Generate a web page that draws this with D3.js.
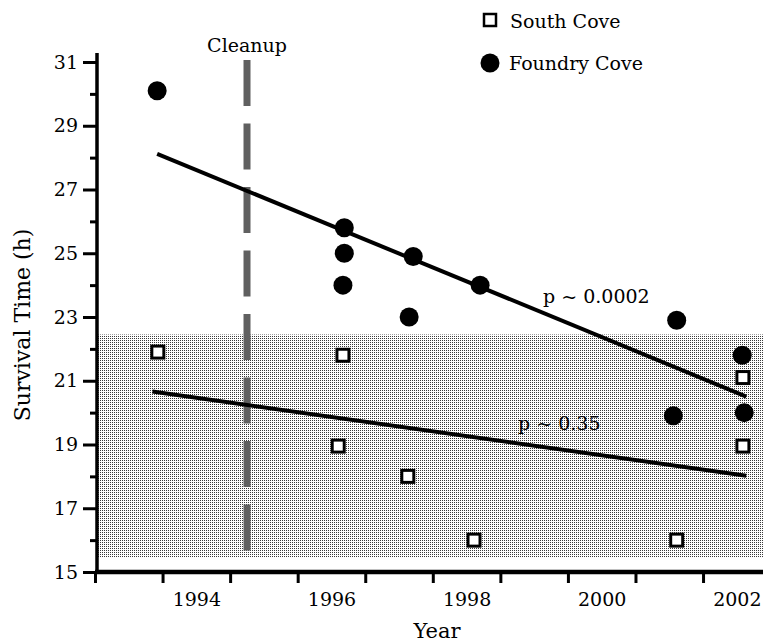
<!DOCTYPE html>
<html>
<head>
<meta charset="utf-8">
<script src="https://cdn.jsdelivr.net/npm/d3@7"></script>
<style>
  body { margin: 0; background: #fff; }
  text { font-family: "DejaVu Serif", serif; fill: #000; }
</style>
</head>
<body>
<div class="chart"></div>
<script>
var svgWidth = 763;
var svgHeight = 643;

// sampling dates (decimal years) and survival times
var foundryYears = [1993.92, 1996.69, 1996.69, 1996.67, 1997.71, 1997.65, 1998.70, 2001.61, 2002.58, 2001.56, 2002.61];
var foundryTimes = [30.1, 25.8, 25.0, 24.0, 24.9, 23.0, 24.0, 22.9, 21.8, 19.9, 20.0];
var southYears = [1993.93, 1996.67, 1996.60, 1997.63, 1998.61, 2001.61, 2002.59, 2002.59];
var southTimes = [21.9, 21.8, 18.95, 18.0, 16.0, 16.0, 21.1, 18.95];

// regression lines: [start, end]
var foundryFitYears = [1993.92, 2002.64];
var foundryFitTimes = [28.12, 20.5];
var southFitYears = [1993.85, 2002.64];
var southFitTimes = [20.66, 18.02];

var cleanupYear = 1995.25;
var shadeRange = [15.45, 22.45];

var yearLabels = [1994, 1996, 1998, 2000, 2002];
var yearTicks = [1993, 1994, 1995, 1996, 1997, 1998, 1999, 2000, 2001, 2002];
var yMajor = [15, 17, 19, 21, 23, 25, 27, 29, 31];
var yMinor = [16, 18, 20, 22, 24, 26, 28, 30];

var svg = d3.select(".chart")
  .append("svg")
  .attr("width", svgWidth)
  .attr("height", svgHeight);

var x = d3.scaleLinear().domain([1993, 2003]).range([95, 770.6]);
var y = d3.scaleLinear().domain([15, 31]).range([572, 62]);

// stipple pattern for the shaded band
var defs = svg.append("defs");
var pat = defs.append("pattern")
  .attr("id", "stipple")
  .attr("patternUnits", "userSpaceOnUse")
  .attr("width", 2)
  .attr("height", 2);
pat.append("rect").attr("width", 2).attr("height", 2).attr("fill", "#fff");
pat.append("rect").attr("width", 1).attr("height", 1).attr("fill", "#3a3a3a");

svg.append("rect")
  .attr("x", 98)
  .attr("y", y(shadeRange[1]))
  .attr("width", svgWidth - 98)
  .attr("height", y(shadeRange[0]) - y(shadeRange[1]))
  .attr("fill", "url(#stipple)");

// cleanup marker
svg.append("line")
  .attr("x1", x(cleanupYear)).attr("x2", x(cleanupYear))
  .attr("y1", y(31.06)).attr("y2", y(15.6))
  .attr("stroke", "#606060")
  .attr("stroke-width", 7)
  .attr("stroke-dasharray", "46,17.5");

svg.append("text")
  .attr("x", x(cleanupYear))
  .attr("y", 52)
  .attr("text-anchor", "middle")
  .style("font-size", "19px")
  .text("Cleanup");

// axes
var yAxisG = svg.append("g").attr("transform", "translate(97,0)");
yAxisG.call(d3.axisLeft(y).tickValues(yMajor).tickSize(14).tickSizeOuter(0).tickPadding(5));
yAxisG.append("g").call(d3.axisLeft(y).tickValues(yMinor).tickSize(7).tickSizeOuter(0).tickFormat(""));
yAxisG.selectAll(".domain").remove();
yAxisG.selectAll("line").attr("stroke", "#000").attr("stroke-width", 3);
yAxisG.selectAll("text").style("font-size", "19px").attr("fill", "#000");
yAxisG.append("line")
  .attr("x1", 0).attr("x2", 0)
  .attr("y1", y(31.28)).attr("y2", y(15) + 2)
  .attr("stroke", "#000").attr("stroke-width", 3.5);

var xAxisG = svg.append("g").attr("transform", "translate(0,572)");
xAxisG.call(d3.axisBottom(x).tickValues(yearTicks).tickSize(11).tickSizeOuter(0).tickFormat(""));
xAxisG.select(".domain").remove();
xAxisG.selectAll("line").attr("stroke", "#000").attr("stroke-width", 3);
xAxisG.append("line")
  .attr("x1", x(1993)).attr("x2", svgWidth)
  .attr("y1", 0).attr("y2", 0)
  .attr("stroke", "#000").attr("stroke-width", 4.5);

var xLabelG = svg.append("g").attr("transform", "translate(0,572)");
xLabelG.call(d3.axisBottom(x)
  .tickValues(yearLabels.map(d => d + 0.5))
  .tickSize(0)
  .tickPadding(21)
  .tickFormat(d => Math.floor(d)));
xLabelG.select(".domain").remove();
xLabelG.selectAll("text").style("font-size", "19px").attr("fill", "#000");

// axis titles
svg.append("text")
  .attr("transform", "translate(30,325) rotate(-90)")
  .attr("text-anchor", "middle")
  .style("font-size", "22px")
  .text("Survival Time (h)");

svg.append("text")
  .attr("x", 437)
  .attr("y", 638)
  .attr("text-anchor", "middle")
  .style("font-size", "21px")
  .text("Year");

// regression lines
var line = d3.line().x(d => x(d[0])).y(d => y(d[1]));
svg.append("path")
  .attr("d", line(d3.zip(foundryFitYears, foundryFitTimes)))
  .attr("stroke", "#000").attr("stroke-width", 4).attr("fill", "none");
svg.append("path")
  .attr("d", line(d3.zip(southFitYears, southFitTimes)))
  .attr("stroke", "#000").attr("stroke-width", 4).attr("fill", "none");

svg.append("text")
  .attr("x", 543).attr("y", 303)
  .style("font-size", "19px")
  .text("p ~ 0.0002");
svg.append("text")
  .attr("x", 518).attr("y", 430)
  .style("font-size", "19px")
  .text("p ~ 0.35");

// points
svg.selectAll(".south")
  .data(d3.zip(southYears, southTimes))
  .enter()
  .append("rect")
  .attr("class", "south")
  .attr("x", d => x(d[0]) - 6)
  .attr("y", d => y(d[1]) - 6)
  .attr("width", 12)
  .attr("height", 12)
  .attr("fill", "#fff")
  .attr("stroke", "#000")
  .attr("stroke-width", 3);

svg.selectAll(".foundry")
  .data(d3.zip(foundryYears, foundryTimes))
  .enter()
  .append("circle")
  .attr("class", "foundry")
  .attr("cx", d => x(d[0]))
  .attr("cy", d => y(d[1]))
  .attr("r", 9.5)
  .attr("fill", "#000");

// legend
var legend = svg.append("g");
legend.append("rect")
  .attr("x", 484).attr("y", 14)
  .attr("width", 12).attr("height", 12)
  .attr("fill", "#fff").attr("stroke", "#000").attr("stroke-width", 2.5);
legend.append("text")
  .attr("x", 510).attr("y", 28)
  .style("font-size", "19px")
  .text("South Cove");
legend.append("circle")
  .attr("cx", 490).attr("cy", 63)
  .attr("r", 9.5)
  .attr("fill", "#000");
legend.append("text")
  .attr("x", 509).attr("y", 70)
  .style("font-size", "19px")
  .text("Foundry Cove");
</script>
</body>
</html>
